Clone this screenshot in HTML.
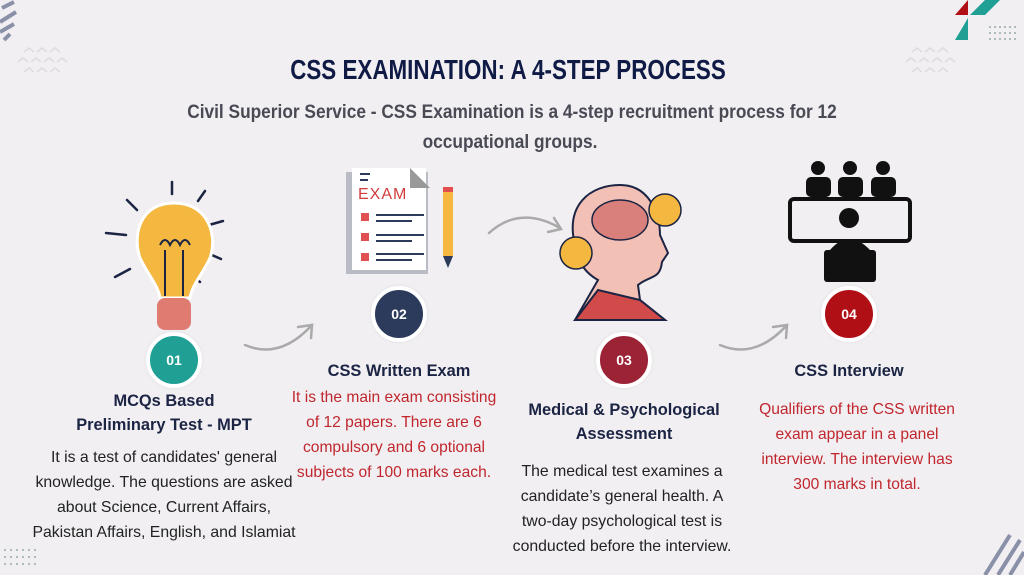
<!DOCTYPE html>
<html><head><meta charset="utf-8"><style>
body{margin:0;}
#c{position:relative;width:1024px;height:575px;background:#f1eff2;overflow:hidden;font-family:"Liberation Sans",sans-serif;}
.t{position:absolute;white-space:nowrap;transform:translateX(-50%);}
.h{font-weight:bold;font-size:16.4px;color:#1c2444;}
.b{font-size:15.8px;color:#222;}
.r{font-size:15.6px;color:#c0262d;}
.cir{position:absolute;width:48px;height:48px;border-radius:50%;border:4px solid #fff;box-sizing:content-box;color:#fff;font-weight:bold;font-size:14px;text-align:center;line-height:48px;transform:translate(-50%,-50%);box-shadow:0 0 3px #ddd;}
</style></head><body><div id="c">
<svg width="1024" height="575" style="position:absolute;left:0;top:0">
<path d="M2 8 L14 2 M0 22 L16 12 M0 32 L14 24 M4 40 L10 34" stroke="#8a90a8" stroke-width="4" fill="none"/>
<polygon points="955,15 968,0 968,15" fill="#b01015"/>
<polygon points="970,15 985,0 1000,0 985,15" fill="#20a095"/>
<polygon points="955,40 968,18 968,40" fill="#20a095"/>
<g fill="#9aa">
<circle cx="990" cy="27" r="1"/><circle cx="995" cy="27" r="1"/><circle cx="1000" cy="27" r="1"/><circle cx="1005" cy="27" r="1"/><circle cx="1010" cy="27" r="1"/><circle cx="1015" cy="27" r="1"/>
<circle cx="990" cy="33" r="1"/><circle cx="995" cy="33" r="1"/><circle cx="1000" cy="33" r="1"/><circle cx="1005" cy="33" r="1"/><circle cx="1010" cy="33" r="1"/><circle cx="1015" cy="33" r="1"/>
<circle cx="990" cy="39" r="1"/><circle cx="995" cy="39" r="1"/><circle cx="1000" cy="39" r="1"/><circle cx="1005" cy="39" r="1"/><circle cx="1010" cy="39" r="1"/><circle cx="1015" cy="39" r="1"/>
<circle cx="5" cy="550" r="1"/><circle cx="11" cy="550" r="1"/><circle cx="17" cy="550" r="1"/><circle cx="23" cy="550" r="1"/><circle cx="29" cy="550" r="1"/><circle cx="35" cy="550" r="1"/>
<circle cx="5" cy="557" r="1"/><circle cx="11" cy="557" r="1"/><circle cx="17" cy="557" r="1"/><circle cx="23" cy="557" r="1"/><circle cx="29" cy="557" r="1"/><circle cx="35" cy="557" r="1"/>
<circle cx="5" cy="564" r="1"/><circle cx="11" cy="564" r="1"/><circle cx="17" cy="564" r="1"/><circle cx="23" cy="564" r="1"/><circle cx="29" cy="564" r="1"/><circle cx="35" cy="564" r="1"/>
</g>
<path d="M985 575 L1010 535 M998 575 L1020 540 M1010 575 L1024 552" stroke="#8a90a8" stroke-width="4"/>
<g stroke="#ddd" stroke-width="1.5" fill="none">
<path d="M24 52l5-4 5 4M37 52l5-4 5 4M50 52l5-4 5 4M18 62l5-4 5 4M31 62l5-4 5 4M44 62l5-4 5 4M57 62l5-4 5 4M24 72l5-4 5 4M37 72l5-4 5 4M50 72l5-4 5 4"/>
<path d="M912 52l5-4 5 4M925 52l5-4 5 4M938 52l5-4 5 4M906 62l5-4 5 4M919 62l5-4 5 4M932 62l5-4 5 4M945 62l5-4 5 4M912 72l5-4 5 4M925 72l5-4 5 4M938 72l5-4 5 4"/>
</g>
<g stroke="#aaa" stroke-width="2.5" fill="none" stroke-linecap="round">
<path d="M245 345 Q280 360 312 325"/><path d="M298 327 L312 325 L311 338"/>
<path d="M489 233 Q520 205 560 228"/><path d="M548 232 L561 229 L554 218"/>
<path d="M720 345 Q755 360 787 325"/><path d="M773 327 L787 325 L786 338"/>
</g>
<g stroke="#1c2444" stroke-width="2.5" stroke-linecap="round">
<path d="M172 182v12M127 200l10 10M205 191l-7 10M106 233l20 2M223 221l-14 4M115 277l15-8M221 259l-16-7M200 282l-10-8"/>
</g>
<path d="M174 203 C140 203 132 235 140 258 C148 275 158 285 160 298 L190 298 C192 285 202 275 210 258 C218 235 208 203 174 203Z" fill="#f4b740" stroke="#fff" stroke-width="3"/>
<path d="M165 296 V250 M183 296 V250 M160 245 q5 -10 10 0 q5 -10 10 0 q5 -10 10 0" stroke="#1c2444" stroke-width="2" fill="none"/>
<rect x="157" y="298" width="34" height="32" rx="8" fill="#e07b72"/>
<rect x="346" y="172" width="82" height="102" fill="#b9bcc4"/>
<rect x="352" y="168" width="74" height="102" fill="#fff"/>
<polygon points="410,168 430,188 410,188" fill="#999"/>
<text x="358" y="199" font-family="Liberation Sans" font-size="16" fill="#d23c3c" letter-spacing="1">EXAM</text>
<g fill="#e05050"><rect x="361" y="213" width="8" height="8"/><rect x="361" y="233" width="8" height="8"/><rect x="361" y="253" width="8" height="8"/></g>
<g stroke="#2c3a5c" stroke-width="2"><path d="M376 215h48M376 221h36M376 235h48M376 241h36M376 254h48M376 260h36M360 174h10M360 180h8"/></g>
<rect x="443" y="190" width="10" height="66" fill="#f4b740"/><rect x="443" y="187" width="10" height="5" fill="#e05050"/><polygon points="443,256 453,256 448,268" fill="#2c3a5c"/>
<path d="M575 245 C565 205 590 185 620 185 C650 185 660 215 660 235 L668 253 L662 262 C660 280 650 275 638 285 L640 300 L665 320 L575 320 L598 280 C580 270 577 255 575 245Z" fill="#f2c0b5" stroke="#1c2444" stroke-width="2"/>
<path d="M640 300 L665 320 L575 320 L598 290Z" fill="#d14b4b" stroke="#1c2444" stroke-width="2"/>
<ellipse cx="620" cy="220" rx="28" ry="20" fill="#d9807c" stroke="#1c2444" stroke-width="1.5"/>
<circle cx="665" cy="210" r="16" fill="#f4b740" stroke="#1c2444" stroke-width="1.5"/>
<circle cx="576" cy="253" r="16" fill="#f4b740" stroke="#1c2444" stroke-width="1.5"/>
<g fill="#111">
<circle cx="818" cy="168" r="7"/><rect x="806" y="177" width="25" height="20" rx="5"/>
<circle cx="850" cy="168" r="7"/><rect x="838" y="177" width="25" height="20" rx="5"/>
<circle cx="883" cy="168" r="7"/><rect x="871" y="177" width="25" height="20" rx="5"/>
<circle cx="849" cy="218" r="10"/><rect x="824" y="250" width="52" height="32" rx="3"/><path d="M830 250 q19 -22 40 0z"/>
</g>
<rect x="790" y="199" width="120" height="42" rx="4" fill="none" stroke="#111" stroke-width="4"/>
</svg>
<div class="t" style="left:508px;top:54px;font-size:28px;font-weight:bold;color:#0f1a45;transform:translateX(-50%) scaleX(0.8);">CSS EXAMINATION: A 4-STEP PROCESS</div>
<div class="t" style="left:512px;top:102px;font-size:19px;font-weight:bold;color:#4a4a55;transform:translateX(-50%) scaleX(0.91);">Civil Superior Service - CSS Examination is a 4-step recruitment process for 12</div>
<div class="t" style="left:510px;top:132px;font-size:19px;font-weight:bold;color:#4a4a55;transform:translateX(-50%) scaleX(0.91);">occupational groups.</div>
<div class="cir" style="left:174px;top:360px;background:#20a095">01</div>
<div class="cir" style="left:399px;top:314px;background:#2c3a5c">02</div>
<div class="cir" style="left:624px;top:360px;background:#9b2335">03</div>
<div class="cir" style="left:849px;top:314px;background:#b01015">04</div>
<div class="t h" style="left:164px;top:392px">MCQs Based</div>
<div class="t h" style="left:164px;top:416px">Preliminary Test - MPT</div>
<div class="t b" style="left:164px;top:449px">It is a test of candidates' general</div>
<div class="t b" style="left:164px;top:474px">knowledge. The questions are asked</div>
<div class="t b" style="left:164px;top:499px">about Science, Current Affairs,</div>
<div class="t b" style="left:164px;top:524px">Pakistan Affairs, English, and Islamiat</div>
<div class="t h" style="left:399px;top:362px">CSS Written Exam</div>
<div class="t r" style="left:394px;top:389px">It is the main exam consisting</div>
<div class="t r" style="left:394px;top:414px">of 12 papers. There are 6</div>
<div class="t r" style="left:394px;top:439px">compulsory and 6 optional</div>
<div class="t r" style="left:394px;top:464px">subjects of 100 marks each.</div>
<div class="t h" style="left:624px;top:401px">Medical &amp; Psychological</div>
<div class="t h" style="left:624px;top:425px">Assessment</div>
<div class="t b" style="left:622px;top:463px">The medical test examines a</div>
<div class="t b" style="left:622px;top:488px">candidate’s general health. A</div>
<div class="t b" style="left:622px;top:513px">two-day psychological test is</div>
<div class="t b" style="left:622px;top:538px">conducted before the interview.</div>
<div class="t h" style="left:849px;top:362px">CSS Interview</div>
<div class="t r" style="left:857px;top:401px">Qualifiers of the CSS written</div>
<div class="t r" style="left:857px;top:426px">exam appear in a panel</div>
<div class="t r" style="left:857px;top:451px">interview. The interview has</div>
<div class="t r" style="left:857px;top:476px">300 marks in total.</div>
</div></body></html>
